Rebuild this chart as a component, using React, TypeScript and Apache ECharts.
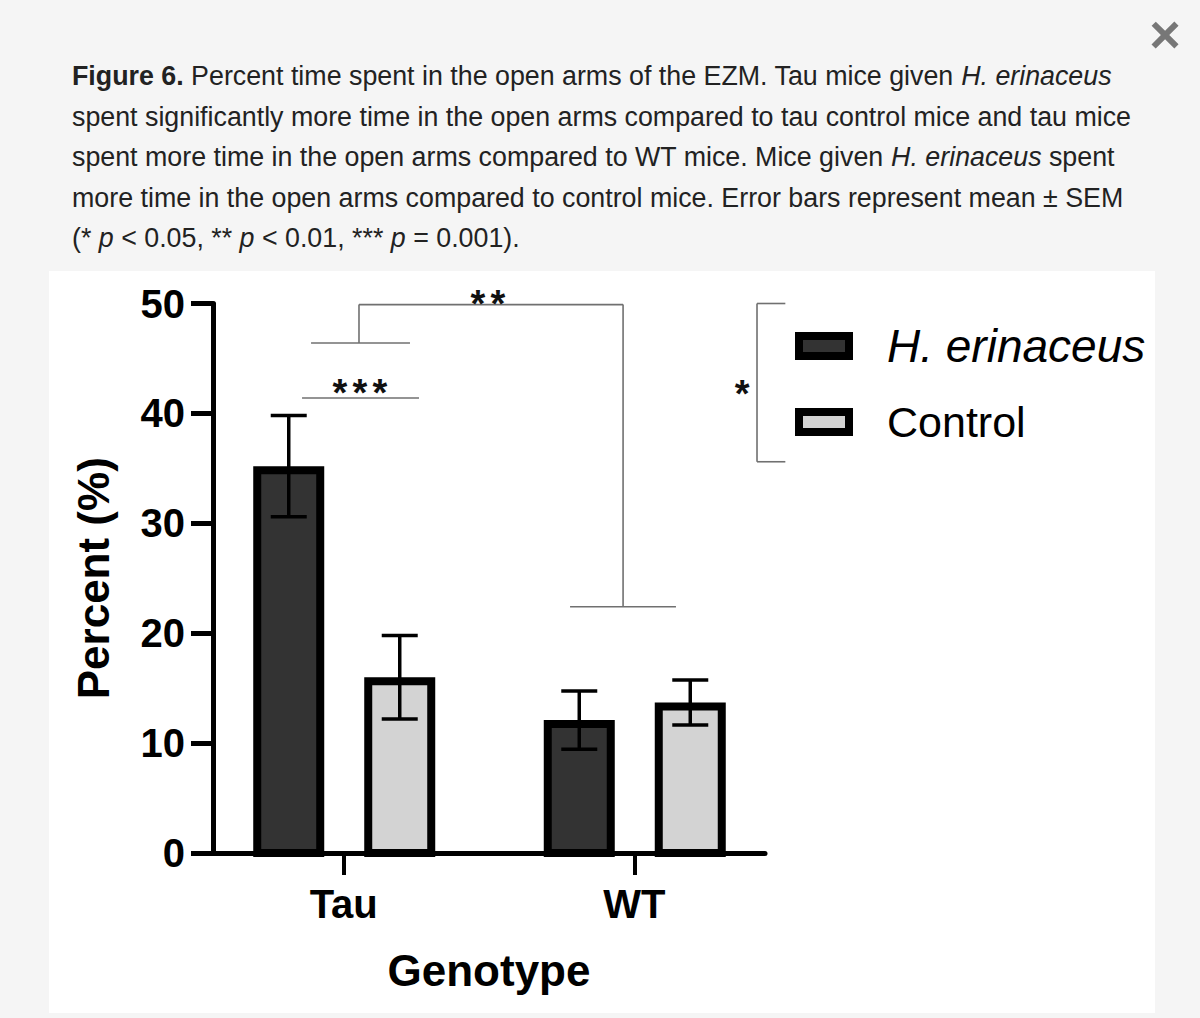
import React, { useEffect, useRef } from 'react';
import * as echarts from 'echarts';

// ---------- data ----------
const categories = ['Tau', 'WT'];
const categoryPositions = [1, 3];
const seriesNames = ['H. erinaceus', 'Control'];
const heMeans = [35.2, 12.1];
const heSem = [4.6, 2.65];
const ctrlMeans = [16.0, 13.7];
const ctrlSem = [3.8, 2.05];
const yTicks = [0, 10, 20, 30, 40, 50];

const captionLines = [
  '{b|Figure 6.} Percent time spent in the open arms of the EZM. Tau mice given {i|H. erinaceus}',
  'spent significantly more time in the open arms compared to tau control mice and tau mice',
  'spent more time in the open arms compared to WT mice. Mice given {i|H. erinaceus} spent',
  'more time in the open arms compared to control mice. Error bars represent mean ± SEM',
  '(* {i|p} < 0.05, ** {i|p} < 0.01, *** {i|p} = 0.001).',
];

// significance annotations in axis units: [x1, y1, x2, y2]
const sigSegments = [
  [0.713, 41.4, 1.518, 41.4],
  [0.775, 46.4, 1.456, 46.4],
  [1.105, 46.4, 1.105, 49.9],
  [1.105, 49.9, 2.923, 49.9],
  [2.923, 49.9, 2.923, 22.4],
  [2.558, 22.4, 3.287, 22.4],
  [3.845, 50.0, 3.845, 35.6],
  [3.845, 50.0, 4.04, 50.0],
  [3.845, 35.6, 4.04, 35.6],
];
// [number of stars, centre x (axis units), y (axis units)]
const sigLabels: [number, number, number][] = [
  [3, 1.112, 41.82],
  [2, 1.993, 49.95],
  [1, 3.742, 41.73],
];

const FONT = '"Liberation Sans", Arial, Helvetica, sans-serif';

function barSeries(name: string, means: number[], sems: number[], fill: string, offset: number) {
  return {
    type: 'custom',
    name,
    clip: false,
    itemStyle: { color: fill, borderColor: '#000', borderWidth: 8 },
    data: means.map((m, i) => [categoryPositions[i], m, sems[i]]),
    encode: { x: 0, y: 1 },
    renderItem: (params: any, api: any) => {
      const x = api.value(0);
      const v = api.value(1);
      const s = api.value(2);
      const top = api.coord([x, v]);
      const base = api.coord([x, 0]);
      const hi = api.coord([x, v + s]);
      const lo = api.coord([x, v - s]);
      const cx = top[0] + offset;
      const half = 31.5;
      const cap = 18;
      return {
        type: 'group',
        children: [
          {
            type: 'rect',
            shape: { x: cx - half, y: top[1] + 4, width: half * 2, height: base[1] - top[1] - 4 },
            style: { fill, stroke: '#000', lineWidth: 8 },
          },
          {
            type: 'line',
            shape: { x1: cx, y1: hi[1], x2: cx, y2: lo[1] },
            style: { stroke: '#000', lineWidth: 3.5 },
          },
          {
            type: 'line',
            shape: { x1: cx - cap, y1: hi[1], x2: cx + cap, y2: hi[1] },
            style: { stroke: '#000', lineWidth: 3.5 },
          },
          {
            type: 'line',
            shape: { x1: cx - cap, y1: lo[1], x2: cx + cap, y2: lo[1] },
            style: { stroke: '#000', lineWidth: 3.5 },
          },
        ],
      };
    },
  };
}

export default function App() {
  const ref = useRef<HTMLDivElement>(null);
  useEffect(() => {
    if (!ref.current) return;
    const chart = echarts.init(ref.current, null, { renderer: 'svg' });
    const capStyle = { fontSize: 26.8, fontFamily: FONT, color: '#222' };
    const option: any = {
      animation: false,
      backgroundColor: '#f5f5f5',
      textStyle: { fontFamily: FONT },
      grid: { left: 213, right: 435, top: 303.5, bottom: 165 },
      xAxis: {
        type: 'value',
        min: 0.1,
        max: 3.9,
        splitLine: { show: false },
        axisLine: { show: true, lineStyle: { color: '#000', width: 5 } },
        axisTick: { show: true, customValues: categoryPositions, length: 22, lineStyle: { color: '#000', width: 4 } },
        axisLabel: {
          customValues: categoryPositions,
          formatter: (v: number) => categories[categoryPositions.indexOf(v)] ?? '',
          fontSize: 40,
          fontWeight: 'bold',
          color: '#000',
          fontFamily: FONT,
          margin: 31,
        },
        name: 'Genotype',
        nameLocation: 'middle',
        nameGap: 95,
        nameTextStyle: { fontSize: 44, fontWeight: 'bold', color: '#000', fontFamily: FONT },
      },
      yAxis: {
        type: 'value',
        min: yTicks[0],
        max: yTicks[yTicks.length - 1],
        interval: 10,
        splitLine: { show: false },
        axisLine: { show: true, lineStyle: { color: '#000', width: 5 } },
        axisTick: { show: true, length: 22, lineStyle: { color: '#000', width: 5 } },
        axisLabel: { fontSize: 40, fontWeight: 'bold', color: '#000', fontFamily: FONT, margin: 28 },
        name: 'Percent (%)',
        nameLocation: 'middle',
        nameRotate: 90,
        nameGap: 98,
        nameTextStyle: { fontSize: 44, fontWeight: 'bold', color: '#000', fontFamily: FONT },
      },
      legend: {
        orient: 'vertical',
        left: 790,
        top: 318,
        itemWidth: 50,
        itemHeight: 20,
        itemGap: 31,
        icon: 'rect',
        data: [
          { name: seriesNames[0], itemStyle: { color: '#333333', borderColor: '#000', borderWidth: 8 } },
          { name: seriesNames[1], itemStyle: { color: '#d3d3d3', borderColor: '#000', borderWidth: 8 } },
        ],
        formatter: (n: string) => (n === seriesNames[0] ? '{i|' + n + '}' : '{n|' + n + '}'),
        textStyle: {
          fontSize: 43,
          lineHeight: 44,
          color: '#000',
          fontFamily: FONT,
          padding: [0, 0, 0, 33],
          rich: {
            i: { fontSize: 46, fontStyle: 'italic', fontFamily: FONT, color: '#000', lineHeight: 44 },
            n: { fontSize: 43, fontFamily: FONT, color: '#000', lineHeight: 44 },
          },
        },
      },
      graphic: [
        {
          type: 'rect',
          z: -100,
          silent: true,
          shape: { x: 49, y: 271, width: 1106, height: 742 },
          style: { fill: '#ffffff' },
        },
        {
          type: 'text',
          x: 1165,
          y: 34,
          style: {
            text: '×',
            fontSize: 54,
            fontWeight: 'bold',
            fontFamily: FONT,
            fill: '#777',
            align: 'center',
            verticalAlign: 'middle',
          },
        },
        ...captionLines.map((t, i) => ({
          type: 'text',
          x: 72,
          y: 76 + i * 40.6,
          style: {
            text: t,
            ...capStyle,
            fill: '#222',
            verticalAlign: 'middle',
            rich: {
              b: { ...capStyle, fontWeight: 'bold' },
              i: { ...capStyle, fontStyle: 'italic' },
            },
          },
        })),
      ],
      series: [
        barSeries(seriesNames[0], heMeans, heSem, '#333333', -55),
        barSeries(seriesNames[1], ctrlMeans, ctrlSem, '#d3d3d3', 56),
        {
          type: 'custom',
          name: 'significance',
          clip: false,
          silent: true,
          data: [[0, 0]],
          renderItem: (params: any, api: any) => {
            const children: any[] = [];
            sigSegments.forEach((s) => {
              const a = api.coord([s[0], s[1]]);
              const b = api.coord([s[2], s[3]]);
              children.push({
                type: 'line',
                shape: { x1: a[0], y1: a[1], x2: b[0], y2: b[1] },
                style: { stroke: '#707070', lineWidth: 1.6 },
              });
            });
            sigLabels.forEach(([n, x, y]) => {
              const p = api.coord([x, y]);
              const step = 20;
              for (let k = 0; k < n; k++) {
                children.push({
                  type: 'text',
                  x: p[0] + (k - (n - 1) / 2) * step,
                  y: p[1],
                  style: {
                    text: '*',
                    fontSize: 38,
                    fontWeight: 'bold',
                    fontFamily: FONT,
                    fill: '#111',
                    align: 'center',
                    verticalAlign: 'middle',
                  },
                });
              }
            });
            return { type: 'group', children };
          },
        },
      ],
    };
    chart.setOption(option);
    return () => chart.dispose();
  }, []);
  return (
    <div
      ref={ref}
      style={{ position: 'fixed', left: 0, top: 0, width: 1200, height: 1018 }}
    />
  );
}
